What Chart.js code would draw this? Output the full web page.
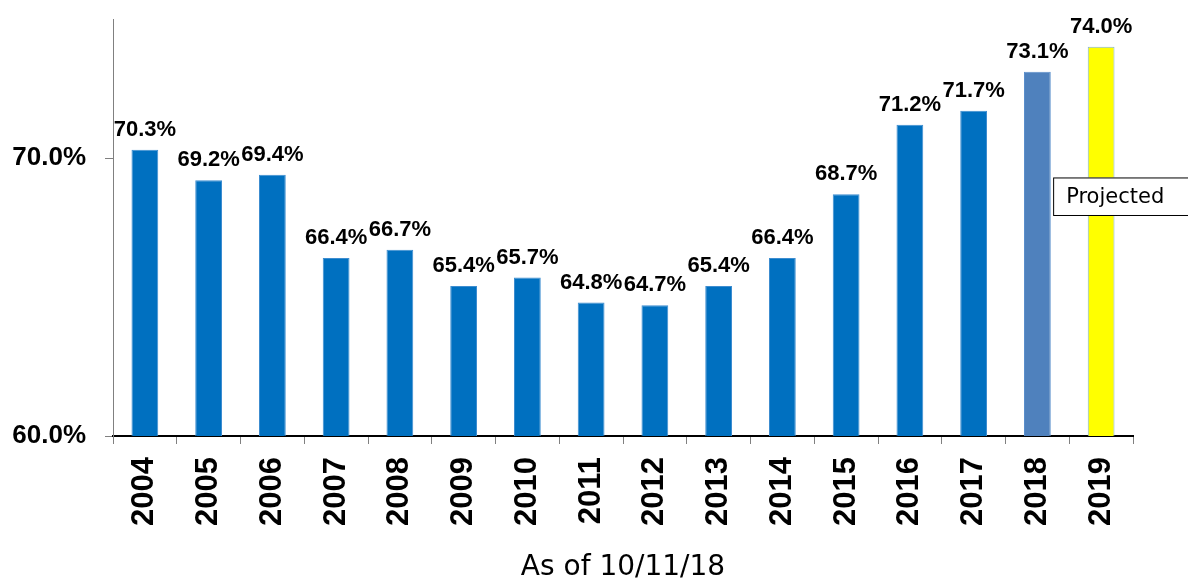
<!DOCTYPE html>
<html>
<head>
<meta charset="utf-8">
<script src="https://cdn.jsdelivr.net/npm/chart.js@4/dist/chart.umd.min.js"></script>
<style>
html,body{margin:0;padding:0;background:#fff;}
#wrap{width:1188px;height:582px;position:relative;}
</style>
</head>
<body>
<div id="wrap"><canvas id="c" width="1188" height="582"></canvas></div>
<script>
const categories = ['2004','2005','2006','2007','2008','2009','2010','2011','2012','2013','2014','2015','2016','2017','2018','2019'];
const values = [70.3, 69.2, 69.4, 66.4, 66.7, 65.4, 65.7, 64.8, 64.7, 65.4, 66.4, 68.7, 71.2, 71.7, 73.1, 74.0];
const yTicks = [60, 70];
const yMin = 60, yMax = 75;
const axisTitle = 'As of 10/11/18';
const noteText = 'Projected';
const noteValueTop = 69.3;
const noteValueBottom = 67.95;

const barColors = categories.map((c, i) => i === 15 ? '#FFFF00' : (i === 14 ? '#4F81BD' : '#0070C0'));
const barBorders = categories.map((c, i) => i === 15 ? '#7FB2D8' : (i === 14 ? '#5B8FCC' : '#3D8DD0'));

const labelPlugin = {
  id: 'valueLabels',
  afterDatasetsDraw(chart) {
    const ctx = chart.ctx;
    const meta = chart.getDatasetMeta(0);
    ctx.save();
    ctx.font = 'bold 22px "Liberation Sans", Arial, sans-serif';
    ctx.fillStyle = '#000';
    ctx.textAlign = 'center';
    ctx.textBaseline = 'alphabetic';
    meta.data.forEach((bar, i) => {
      ctx.fillText(values[i].toFixed(1) + '%', bar.x, bar.y - 14);
    });
    const last = meta.data[meta.data.length - 1];
    const ys = chart.scales.y;
    const top = ys.getPixelForValue(noteValueTop);
    const bottom = ys.getPixelForValue(noteValueBottom);
    const left = last.x - 48;
    const right = chart.width + 5;
    ctx.fillStyle = '#fff';
    ctx.fillRect(left, top, right - left, bottom - top);
    ctx.strokeStyle = '#000';
    ctx.lineWidth = 1;
    ctx.strokeRect(left + 0.5, top + 0.5, right - left, bottom - top);
    ctx.fillStyle = '#000';
    ctx.font = '21px "DejaVu Sans", sans-serif';
    ctx.textAlign = 'left';
    ctx.textBaseline = 'middle';
    ctx.fillText(noteText, left + 13, (top + bottom) / 2 + 1);
    ctx.restore();
  }
};

new Chart(document.getElementById('c'), {
  type: 'bar',
  data: {
    labels: categories,
    datasets: [{
      data: values,
      backgroundColor: barColors,
      borderColor: barBorders,
      borderWidth: 1,
      borderSkipped: 'bottom',
      barPercentage: 0.42,
      categoryPercentage: 1.0
    }]
  },
  options: {
    responsive: false,
    animation: false,
    layout: { padding: { top: 19, right: 55, left: 0, bottom: 0 } },
    plugins: { legend: { display: false }, tooltip: { enabled: false } },
    scales: {
      x: {
        offset: true,
        grid: { display: true, drawOnChartArea: false, drawTicks: true, tickLength: 8, color: '#808080', offset: true },
        border: { display: true, color: '#000', width: 2 },
        ticks: {
          minRotation: 90, maxRotation: 90, padding: 13,
          color: '#000',
          font: { family: '"Liberation Sans", Arial, sans-serif', size: 31, weight: 'bold' }
        },
        title: {
          display: true, text: axisTitle, color: '#000',
          font: { family: '"DejaVu Sans", sans-serif', size: 28, weight: 'normal' },
          padding: { top: 0, bottom: -3 }
        },
        afterFit(scale) { scale.height = 146; scale.paddingLeft = 0; scale.paddingRight = 0; }
      },
      y: {
        min: yMin, max: yMax,
        afterBuildTicks(scale) { scale.ticks = yTicks.map(v => ({ value: v })); },
        grid: { display: true, drawOnChartArea: false, drawTicks: true, tickLength: 8, color: '#808080' },
        border: { display: true, color: '#808080', width: 1 },
        ticks: {
          padding: 19, color: '#000',
          font: { family: '"Liberation Sans", Arial, sans-serif', size: 26, weight: 'bold' },
          callback: v => Number(v).toFixed(1) + '%'
        },
        afterFit(scale) { scale.width = 113; scale.paddingTop = 0; scale.paddingBottom = 0; }
      }
    }
  },
  plugins: [labelPlugin]
});
</script>
</body>
</html>
